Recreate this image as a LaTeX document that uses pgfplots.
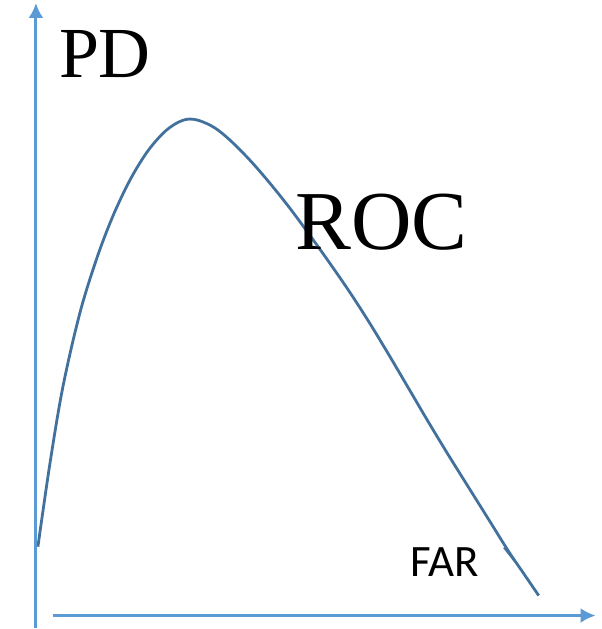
\documentclass[border=0pt]{standalone}
\usepackage{pgfplots}
\pgfplotsset{compat=1.18}
\usetikzlibrary{arrows.meta}
\usepackage{fontspec}
\setmainfont{Liberation Serif}
\newfontfamily\calib{Carlito}
\definecolor{axblue}{HTML}{5B9BD5}
\definecolor{curveblue}{HTML}{41719C}
\begin{document}
\begin{tikzpicture}
\begin{axis}[
  scale only axis, width=603bp, height=629bp,
  xmin=0, xmax=603, ymin=0, ymax=629,
  hide axis, clip=false,
]
\path (axis cs:0,0) rectangle (axis cs:603,629);
% axes arrows
\addplot[axblue, line width=3bp, -{Latex[length=15bp,width=15bp]}] coordinates {(36,0) (36,626)};
\addplot[axblue, line width=3bp, -{Latex[length=15bp,width=15bp]}] coordinates {(53,12) (597,12)};
% ROC curve
\addplot[curveblue, line width=2.8bp, smooth, tension=0.55] coordinates {
(38,81) (50,164) (63,241) (80,315) (97,370) (113,412) (130,448) (147,476)
(163,495) (176,505) (188,509.5) (200,508) (215,501) (230,489) (250,469)
(270,446) (290,421) (310,394) (330,366) (350,337) (370,306) (390,273)
(410,239) (430,205) (450,172) (470,140) (490,108) (510,76) (525,54) (540,32)};
\addplot[curveblue, line width=1.5bp] coordinates {(505,80) (516,66)};
\node[anchor=base west, inner sep=0pt, font=\fontsize{72bp}{80bp}\selectfont] at (axis cs:59,551) {PD};
\node[anchor=base west, inner sep=0pt, font=\fontsize{84bp}{90bp}\selectfont] at (axis cs:296,379) {ROC};
\node[anchor=base west, inner sep=0pt, font=\calib\fontsize{45bp}{50bp}\selectfont] at (axis cs:411,51) {FAR};
\end{axis}
\end{tikzpicture}
\end{document}
